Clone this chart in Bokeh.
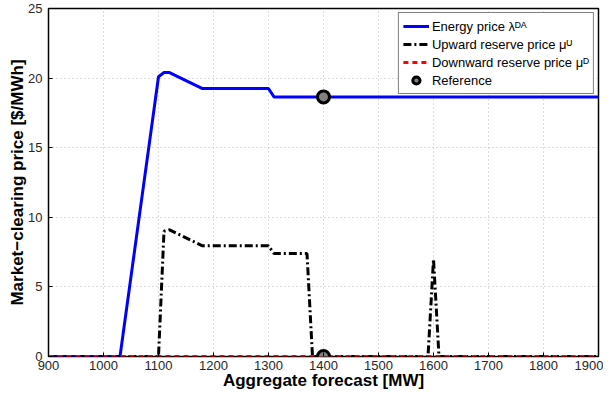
from bokeh.plotting import figure
from bokeh.models import Range1d, Legend, LegendItem, FixedTicker
from bokeh.embed import file_html
from bokeh.resources import INLINE

# ---- data ----
x_energy = [900, 1030, 1100, 1110, 1120, 1180, 1300, 1310, 1900]
y_energy = [0, 0, 20.1, 20.4, 20.4, 19.25, 19.25, 18.65, 18.65]

x_up = [900, 1100, 1110, 1120, 1180, 1300, 1310, 1370, 1380, 1590, 1600, 1610, 1900]
y_up = [0, 0, 9.0, 9.1, 7.95, 7.95, 7.4, 7.4, 0, 0, 7.0, 0, 0]

x_down = [900, 1900]
y_down = [0, 0]

x_ref = [1400, 1400]
y_ref = [18.65, 0]

x_ticks = [900, 1000, 1100, 1200, 1300, 1400, 1500, 1600, 1700, 1800, 1900]
y_ticks = [0, 5, 10, 15, 20, 25]

FONT = "Liberation Sans"

p = figure(width=603, height=392, output_backend="svg", toolbar_location=None,
           x_range=Range1d(900, 1900), y_range=Range1d(0, 25),
           min_border_left=48, min_border_right=5, min_border_top=8,
           min_border_bottom=35)
p.background_fill_color = "white"
p.border_fill_color = "white"
p.outline_line_color = "black"
p.outline_line_width = 1.5

for ax in (p.xaxis[0], p.yaxis[0]):
    ax.axis_line_color = None
    ax.major_tick_in = 4
    ax.major_tick_out = 0
    ax.major_tick_line_color = "black"
    ax.minor_tick_line_color = None
    ax.major_label_text_font = FONT
    ax.major_label_text_font_size = "13px"
    ax.major_label_text_color = "#262626"
    ax.axis_label_text_font = FONT
    ax.axis_label_text_font_size = "17px"
    ax.axis_label_text_font_style = "bold"
    ax.axis_label_text_color = "black"

p.xaxis.ticker = FixedTicker(ticks=x_ticks)
p.yaxis.ticker = FixedTicker(ticks=y_ticks)
p.xaxis.axis_label = "Aggregate forecast [MW]"
p.yaxis.axis_label = "Market\u2212clearing price [$/MWh]"
p.xaxis.major_label_standoff = 4
p.xaxis.axis_label_standoff = -2
p.yaxis.major_label_standoff = 6
p.yaxis.axis_label_standoff = -2

p.xgrid.ticker = FixedTicker(ticks=x_ticks)
p.ygrid.ticker = FixedTicker(ticks=y_ticks)
for g in (p.xgrid[0], p.ygrid[0]):
    g.grid_line_color = "#b8b8b8"
    g.grid_line_dash = "1 3"
    g.grid_line_width = 1

r_energy = p.line(x_energy, y_energy, line_color="#0000ff", line_width=3)
r_up = p.line(x_up, y_up, line_color="black", line_width=3, line_dash="8 3 2 3")
r_down = p.line(x_down, y_down, line_color="#ff0000", line_width=3, line_dash="5 4")
r_ref = p.scatter(x_ref, y_ref, marker="circle", size=12, fill_color="#808080",
                  line_color="black", line_width=3)

legend = Legend(items=[
    LegendItem(label="Energy price \u03bb\u1d30\u1d2c", renderers=[r_energy]),
    LegendItem(label="Upward reserve price \u03bc\u1d41", renderers=[r_up]),
    LegendItem(label="Downward reserve price \u03bc\u1d30", renderers=[r_down]),
    LegendItem(label="Reference", renderers=[r_ref]),
], location="top_right")
legend.label_text_font = FONT
legend.label_text_font_size = "13px"
legend.label_text_color = "black"
legend.border_line_color = "black"
legend.border_line_width = 1
legend.background_fill_alpha = 1
legend.glyph_width = 26
legend.glyph_height = 18
legend.label_height = 18
legend.spacing = 0
legend.padding = 4
legend.margin = 4
legend.label_standoff = 3
p.add_layout(legend)

open("out.html", "w").write(file_html(p, INLINE))
